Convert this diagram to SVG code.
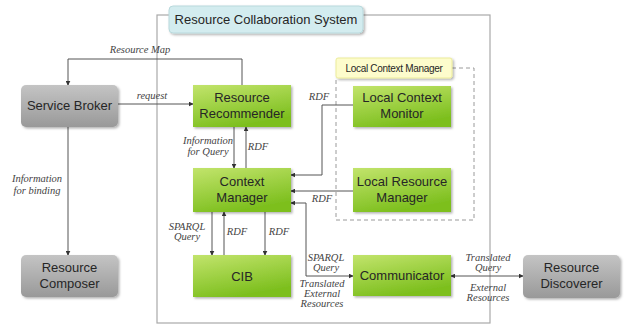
<svg xmlns="http://www.w3.org/2000/svg" width="625" height="326" viewBox="0 0 625 326">
  <defs>
    <linearGradient id="green" x1="0" y1="0" x2="0.4" y2="1">
      <stop offset="0" stop-color="#c2e46c"/>
      <stop offset="1" stop-color="#7dbf1e"/>
    </linearGradient>
    <linearGradient id="gray" x1="0" y1="0" x2="0" y2="1">
      <stop offset="0" stop-color="#c4c4c4"/>
      <stop offset="1" stop-color="#999999"/>
    </linearGradient>
    <filter id="shadow" x="-10%" y="-10%" width="125%" height="130%">
      <feDropShadow dx="1.5" dy="1.5" stdDeviation="1.2" flood-color="#000" flood-opacity="0.3"/>
    </filter>
    <marker id="arrow" viewBox="0 0 8 8" refX="7" refY="4" markerWidth="5" markerHeight="5" orient="auto-start-reverse">
      <path d="M0,0 L8,4 L0,8 z" fill="#333"/>
    </marker>
  </defs>
  <style>
    .green { fill: url(#green); filter: url(#shadow); }
    .gray { fill: url(#gray); filter: url(#shadow); }
    .label { font-family: "Liberation Sans", Arial, sans-serif; font-size: 13px; fill: #262626; text-anchor: middle; }
    .note { font-family: "Liberation Serif", "Times New Roman", serif; font-style: italic; font-size: 10.5px; fill: #444; text-anchor: middle; }
    .wire { fill: none; stroke: #555; stroke-width: 1; }
    .arrowed { marker-end: url(#arrow); }
    .both { marker-start: url(#arrow); marker-end: url(#arrow); }
  </style>

  <rect width="625" height="326" fill="#ffffff"/>

  <!-- system boundary -->
  <g id="system">
    <rect x="157" y="15" width="333" height="308" fill="none" stroke="#a9a9a9" stroke-width="1.2"/>
    <rect x="169" y="6" width="194" height="27" rx="4" fill="#d3ecef" stroke="#b9d9dc" filter="url(#shadow)"/>
    <text x="266" y="24" class="label">Resource Collaboration System</text>
  </g>

  <!-- local context manager boundary -->
  <g id="local-context-manager">
    <path d="M452,68 H474 V220 H336 V78" fill="none" stroke="#9a9a9a" stroke-width="1" stroke-dasharray="4,3"/>
    <rect x="336" y="58" width="116" height="20" rx="2" fill="#fdfccc" stroke="#ecec9a" filter="url(#shadow)"/>
    <text x="394" y="72" class="label" style="font-size:10px;letter-spacing:-0.3px">Local Context Manager</text>
  </g>

  <!-- connectors -->
  <g id="connectors">
    <path class="wire arrowed" d="M242,85 V59 H68 V85"/>
    <path class="wire arrowed" d="M118,104 H193"/>
    <path class="wire arrowed" d="M68,127 V255"/>
    <path class="wire arrowed" d="M234,127 V168"/>
    <path class="wire arrowed" d="M246,168 V127"/>
    <path class="wire arrowed" d="M212,212 V255"/>
    <path class="wire arrowed" d="M224,255 V212"/>
    <path class="wire arrowed" d="M265,212 V255"/>
    <path class="wire arrowed" d="M353,105 H322 V175 H291"/>
    <path class="wire arrowed" d="M353,191 H291"/>
    <path class="wire both" d="M291,203 H306 V276 H353"/>
    <path class="wire both" d="M451,276 H523"/>

    <text x="140" y="53" class="note">Resource Map</text>
    <text x="152" y="99" class="note">request</text>
    <text x="37" y="182" class="note">Information</text>
    <text x="37" y="194" class="note">for binding</text>
    <text x="208" y="144" class="note">Information</text>
    <text x="208" y="155" class="note">for Query</text>
    <text x="258" y="150" class="note">RDF</text>
    <text x="319" y="100" class="note">RDF</text>
    <text x="322" y="202" class="note">RDF</text>
    <text x="187" y="230" class="note">SPARQL</text>
    <text x="187" y="240" class="note">Query</text>
    <text x="237" y="235" class="note">RDF</text>
    <text x="279" y="235" class="note">RDF</text>
    <text x="326" y="261" class="note">SPARQL</text>
    <text x="326" y="271" class="note">Query</text>
    <text x="322" y="287" class="note">Translated</text>
    <text x="322" y="297" class="note">External</text>
    <text x="322" y="307" class="note">Resources</text>
    <text x="488" y="261" class="note">Translated</text>
    <text x="488" y="271" class="note">Query</text>
    <text x="488" y="291" class="note">External</text>
    <text x="488" y="301" class="note">Resources</text>
  </g>

  <g id="service-broker">
    <rect class="gray" x="21" y="85" width="97" height="42" rx="5"/>
    <text x="69.5" y="110" class="label">Service Broker</text>
  </g>

  <g id="resource-composer">
    <rect class="gray" x="21" y="255" width="97" height="42" rx="5"/>
    <text x="69.5" y="272" class="label">Resource</text>
    <text x="69.5" y="288" class="label">Composer</text>
  </g>

  <g id="resource-discoverer">
    <rect class="gray" x="523" y="255" width="97" height="43" rx="5"/>
    <text x="571.5" y="272" class="label">Resource</text>
    <text x="571.5" y="288" class="label">Discoverer</text>
  </g>

  <g id="resource-recommender">
    <rect class="green" x="193" y="85" width="98" height="42"/>
    <text x="242" y="102" class="label">Resource</text>
    <text x="242" y="118" class="label">Recommender</text>
  </g>

  <g id="context-manager">
    <rect class="green" x="193" y="168" width="98" height="44"/>
    <text x="242" y="186" class="label">Context</text>
    <text x="242" y="202" class="label">Manager</text>
  </g>

  <g id="cib">
    <rect class="green" x="193" y="255" width="98" height="42"/>
    <text x="242" y="281" class="label">CIB</text>
  </g>

  <g id="local-context-monitor">
    <rect class="green" x="353" y="86" width="98" height="41"/>
    <text x="402" y="102" class="label">Local Context</text>
    <text x="402" y="118" class="label">Monitor</text>
  </g>

  <g id="local-resource-manager">
    <rect class="green" x="353" y="168" width="98" height="44"/>
    <text x="402" y="186" class="label">Local Resource</text>
    <text x="402" y="202" class="label">Manager</text>
  </g>

  <g id="communicator">
    <rect class="green" x="353" y="255" width="98" height="41"/>
    <text x="402" y="280" class="label">Communicator</text>
  </g>
</svg>
